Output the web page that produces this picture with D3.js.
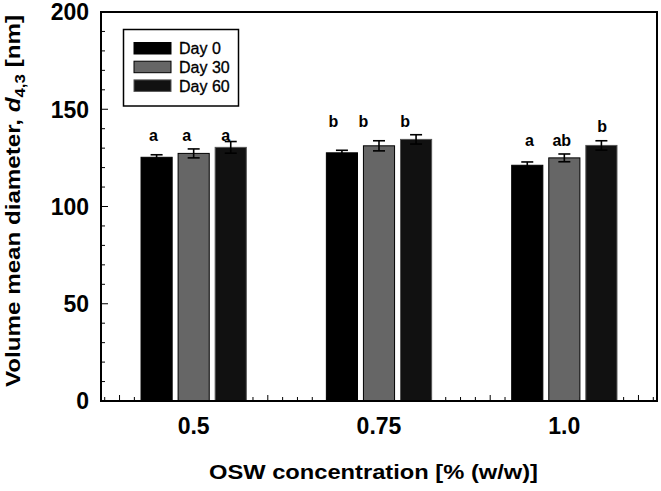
<!DOCTYPE html>
<html><head><meta charset="utf-8">
<script src="https://cdn.jsdelivr.net/npm/d3@7"></script>
<style>body{margin:0;background:#fff}svg{display:block}</style>
</head><body><svg id="c" width="661" height="491"></svg>
<script>
const categories = [0.5, 0.75, 1.0];
const categoryLabels = ["0.5", "0.75", "1.0"];
const seriesNames = ["Day 0", "Day 30", "Day 60"];
const day0 = [125.3, 127.6, 121.2];
const day30 = [127.3, 131.2, 125.0];
const day60 = [130.4, 134.5, 131.4];
const err0 = [1.3, 1.3, 1.7];
const err30 = [2.3, 2.6, 2.0];
const err60 = [3.0, 2.4, 2.4];
const yTicks = [0, 50, 100, 150, 200];
// significance letters: [series index, category index, letter, x (w/w %), y (nm)]
const letters = [
  [0,0,"a",0.4456,135.6],[1,0,"a",0.4906,135.6],[2,0,"a",0.5432,135.6],
  [0,1,"b",0.6884,143.3],[1,1,"b",0.7289,143.3],[2,1,"b",0.7851,143.3],
  [0,2,"a",0.9528,133.3],[1,2,"ab",0.9965,133.3],[2,2,"b",1.0511,140.5]
];

const values = [day0, day30, day60];
const errs = [err0, err30, err60];
const fills = ["#000000", "#666666", "#111111"];
const strokes = ["#000000", "#000000", "#555555"];
const FONT = "Liberation Sans, Arial, sans-serif";

const L = 101, R = 657, T = 12, B = 401;
const svg = d3.select("#c");
const x = d3.scaleLinear().domain([0.375, 1.125]).range([L, R]);
const y = d3.scaleLinear().domain([0, 200]).range([B, T]);
const barW = x(0.042) - x(0);
const step = 0.05;

// bottom minor ticks (inward)
const xt = d3.range(0.38, 1.125, 0.02);
svg.append("g").selectAll("line").data(xt).join("line")
  .attr("x1", d => x(d)).attr("x2", d => x(d))
  .attr("y1", B).attr("y2", d => (Math.abs(Math.round(d*10) - d*10) < 1e-6) ? B-6 : B-4)
  .attr("stroke", "#000").attr("stroke-width", 1);

// left ticks (inward)
const yt = d3.range(0, 201, 10);
svg.append("g").selectAll("line").data(yt).join("line")
  .attr("x1", L).attr("x2", d => d % 50 === 0 ? L+7 : L+4)
  .attr("y1", d => y(d)).attr("y2", d => y(d))
  .attr("stroke", "#000").attr("stroke-width", 1);

// bars
values.forEach((vals, si) => {
  const g = svg.append("g");
  g.selectAll("rect").data(vals).join("rect")
    .attr("x", (d,i) => x(categories[i] + (si-1)*step) - barW/2)
    .attr("y", d => y(d))
    .attr("width", barW)
    .attr("height", d => B - y(d))
    .attr("fill", fills[si]).attr("stroke", strokes[si]).attr("stroke-width", 1);
  const eb = svg.append("g").attr("stroke", "#000").attr("stroke-width", 1.6);
  vals.forEach((d,i) => {
    const cx = x(categories[i] + (si-1)*step);
    const e = errs[si][i];
    eb.append("line").attr("x1", cx).attr("x2", cx).attr("y1", y(d+e)).attr("y2", y(d-e));
    eb.append("line").attr("x1", cx-6).attr("x2", cx+6).attr("y1", y(d+e)).attr("y2", y(d+e));
    eb.append("line").attr("x1", cx-6).attr("x2", cx+6).attr("y1", y(d-e)).attr("y2", y(d-e));
  });
});

// frame
svg.append("rect").attr("x", L).attr("y", T).attr("width", R-L).attr("height", B-T)
  .attr("fill", "none").attr("stroke", "#000").attr("stroke-width", 2);

// letters
svg.append("g").selectAll("text").data(letters).join("text")
  .attr("x", d => x(d[3])).attr("y", d => y(d[4]))
  .attr("text-anchor", "middle").attr("dominant-baseline", "middle")
  .attr("font-family", FONT).attr("font-weight", "bold")
  .attr("font-size", 16).text(d => d[2]);

// y tick labels
svg.append("g").selectAll("text").data(yTicks).join("text")
  .attr("x", L-12).attr("y", d => y(d)).attr("dy", "0.36em")
  .attr("text-anchor", "end")
  .attr("font-family", FONT).attr("font-weight", "bold")
  .attr("font-size", 23).text(d => d);

// x tick labels
svg.append("g").selectAll("text").data(categories).join("text")
  .attr("x", d => x(d)).attr("y", 434)
  .attr("text-anchor", "middle")
  .attr("font-family", FONT).attr("font-weight", "bold")
  .attr("font-size", 23).text((d,i) => categoryLabels[i]);

// axis titles
svg.append("text").attr("x", 373.5).attr("y", 479).attr("text-anchor", "middle")
  .attr("font-family", FONT).attr("font-weight", "bold")
  .attr("font-size", 21).attr("textLength", 329).attr("lengthAdjust", "spacingAndGlyphs")
  .text("OSW concentration [% (w/w)]");

const yl = svg.append("text").attr("transform", `translate(20,201) rotate(-90)`)
  .attr("text-anchor", "middle")
  .attr("font-family", FONT).attr("font-weight", "bold")
  .attr("font-size", 20).attr("textLength", 372).attr("lengthAdjust", "spacingAndGlyphs");
yl.append("tspan").text("Volume mean diameter, ");
yl.append("tspan").attr("font-style", "italic").text("d");
yl.append("tspan").attr("font-size", 14).attr("dy", 5).text("4,3");
yl.append("tspan").attr("dy", -5).text(" [nm]");

// legend
const lg = svg.append("g");
lg.append("rect").attr("x", 123.5).attr("y", 29.5).attr("width", 115).attr("height", 76.5)
  .attr("fill", "#fff").attr("stroke", "#000").attr("stroke-width", 1.5);
seriesNames.forEach((n, i) => {
  const yy = 42.5 + i*18.7;
  lg.append("rect").attr("x", 134).attr("y", yy).attr("width", 37).attr("height", 11.5)
    .attr("fill", fills[i]).attr("stroke", strokes[i]).attr("stroke-width", 1);
  lg.append("text").attr("x", 179).attr("y", yy + 6).attr("dy", "0.36em")
    .attr("font-family", FONT).attr("font-size", 16)
    .attr("stroke", "#000").attr("stroke-width", 0.3)
    .text(n);
});
</script></body></html>
